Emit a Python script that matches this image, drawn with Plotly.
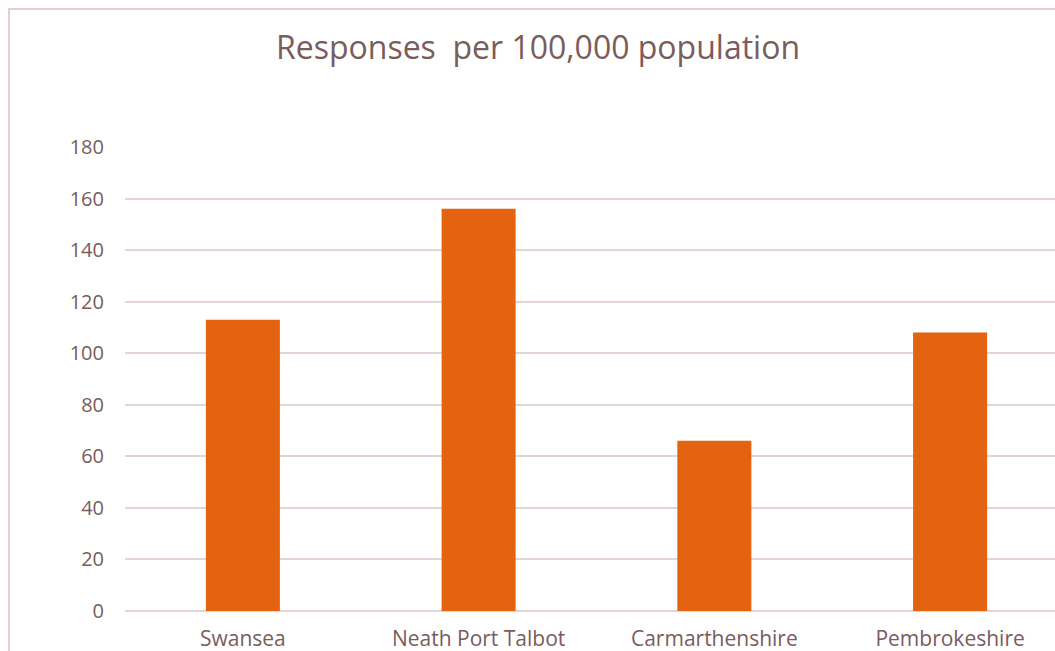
import plotly.graph_objects as go

categories = ["Swansea", "Neath Port Talbot", "Carmarthenshire", "Pembrokeshire"]
values = [113, 156, 66, 108]
y_ticks = [0, 20, 40, 60, 80, 100, 120, 140, 160, 180]

W, H = 1055, 651
L, T, B = 125, 147, 40

fig = go.Figure(go.Bar(x=categories, y=values, marker=dict(color="#E46310", line=dict(width=0))))

text_color = "#7A5C5C"
grid_color = "#E4D5D5"

fig.update_layout(
    width=W, height=H,
    margin=dict(l=L, r=0, t=T, b=B, autoexpand=False),
    paper_bgcolor="white", plot_bgcolor="white",
    bargap=0.686,
    showlegend=False,
    title=dict(text="Responses  per 100,000 population", x=538 / W, xanchor="center",
               y=1 - 48 / H, yanchor="middle", automargin=False,
               font=dict(family="Open Sans", size=32, color=text_color)),
    font=dict(family="Open Sans", color=text_color),
)
fig.update_xaxes(range=[-0.5, 3.445], showgrid=False, showline=False, ticks="",
                 ticklabelstandoff=13, automargin=False,
                 tickfont=dict(size=21, color=text_color), fixedrange=True)
fig.update_yaxes(range=[0, 180], tickvals=y_ticks, showgrid=True, gridcolor=grid_color, gridwidth=1.5,
                 zeroline=True, zerolinecolor=grid_color, zerolinewidth=1.5,
                 showline=False, ticks="", ticklabelstandoff=20, automargin=False,
                 tickfont=dict(size=20, color=text_color), fixedrange=True)

pw = W - L
ph = H - T - B
fig.add_shape(type="rect", xref="paper", yref="paper",
              x0=(9 - L) / pw, x1=1.05, y0=-0.2, y1=(H - B - 9) / ph,
              line=dict(color="#E2D0D0", width=2), fillcolor="rgba(0,0,0,0)", layer="below")

fig.write_html(
    "out.html",
    config={"displayModeBar": False},
    post_script="document.body.style.margin='0';document.documentElement.style.overflow='hidden';document.body.style.overflow='hidden';",
)
